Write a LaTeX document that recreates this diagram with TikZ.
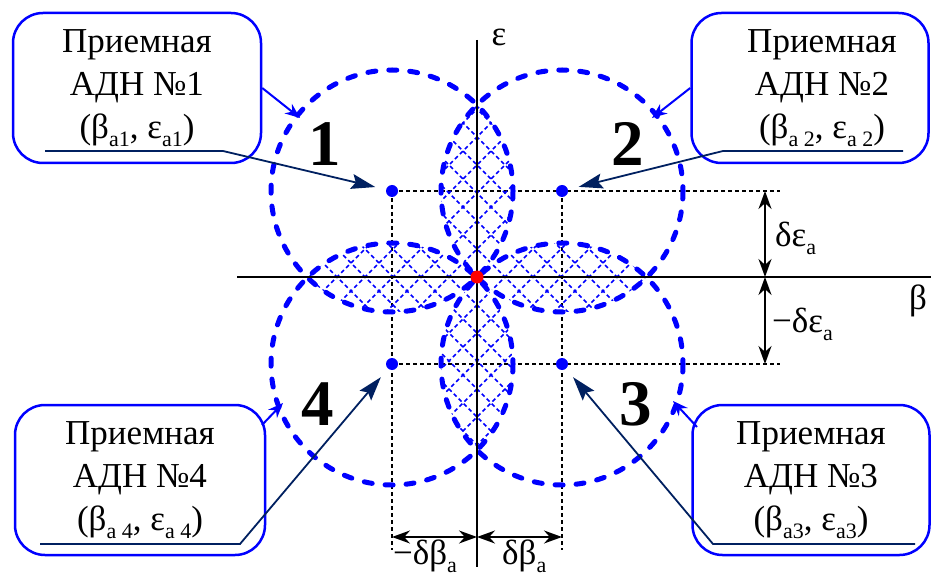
\documentclass[tikz,border=0pt]{standalone}
\usepackage{fontspec}
\setmainfont{Liberation Serif}
\usetikzlibrary{arrows.meta}
\definecolor{navy}{RGB}{0,32,96}
\newcommand{\idx}[1]{\raisebox{-8pt}{\fontsize{22}{22}\selectfont #1}}

\begin{document}
\begin{tikzpicture}[x=1pt, y=-1pt,
        callout/.style={draw=blue, line width=2.5pt, rounded corners=30pt, align=center, minimum height=150pt, inner sep=0pt, font=\fontsize{35}{43}\selectfont},
        zone/.style={blue, line width=5pt, dash pattern=on 8pt off 13pt, line cap=round},
        hatch/.style={blue, line width=1.6pt, dash pattern=on 4pt off 3pt},
        guide/.style={line width=1.5pt, dash pattern=on 4pt off 3pt},
        axis/.style={line width=1.8pt},
        antenna/.style={circle, fill=blue, inner sep=0pt, minimum size=12pt},
        center/.style={circle, fill=red, inner sep=0pt, minimum size=13pt},
        leader/.style={navy, line width=1.8pt, shorten >=11pt, -{Stealth[length=24pt, width=15pt, inset=4pt]}},
        pointer/.style={blue, line width=2pt, -{Stealth[length=15pt, width=12pt]}},
        dim/.style={line width=1.8pt, {Stealth[length=18pt, width=13pt]}-{Stealth[length=18pt, width=13pt]}},
        num/.style={font=\fontsize{65}{65}\selectfont\bfseries},
        lbl/.style={font=\fontsize{35}{40}\selectfont}]
    \useasboundingbox (0,0) rectangle (931,577);
    % antenna positions
    \coordinate (a1) at (392,191);
    \coordinate (a2) at (562,191);
    \coordinate (a3) at (562,364);
    \coordinate (a4) at (392,364);
    % guide lines
    \coordinate (g1) at (780,191);
    \coordinate (g4) at (780,364);
    \coordinate (v1) at (392,550);
    \coordinate (v2) at (562,550);
    \draw[guide] (a1) -- (g1);
    \draw[guide] (a4) -- (g4);
    \draw[guide] (a1) -- (v1);
    \draw[guide] (a2) -- (v2);
    % hatched overlaps
    \foreach \p/\q in {a1/a2, a2/a3, a3/a4, a4/a1} {
        \begin{scope}
            \clip (\p) circle (121);
            \clip (\q) circle (121);
            \foreach \k in {-9,...,9} {
                \draw[hatch] (\k*28+277,77) -- ++(400,400);
                \draw[hatch] (\k*28+677,77) -- ++(-400,400);
            }
        \end{scope}
    }
    \foreach \p in {a1,a2,a3,a4}
        \draw[zone] (\p) circle (121);
    % axes
    \coordinate (xl) at (237,277);
    \coordinate (xr) at (931,277);
    \coordinate (yt) at (477,40);
    \coordinate (yb) at (477,567);
    \draw[axis] (xl) -- (xr);
    \draw[axis] (yt) -- (yb);
    \node[lbl] (eps) at (499,37) {ε};
    \node[lbl] (beta) at (918,301) {β};
    \node[center] (o) at (477,277) {};
    \node[antenna] (p1) at (a1) {};
    \node[antenna] (p2) at (a2) {};
    \node[antenna] (p3) at (a3) {};
    \node[antenna] (p4) at (a4) {};
    % offsets
    \coordinate (e1) at (765,191);
    \coordinate (e0) at (765,277);
    \coordinate (e2) at (765,364);
    \coordinate (b1) at (392,537);
    \coordinate (b0) at (477,537);
    \coordinate (b2) at (562,537);
    \draw[dim] (e1) -- (e0);
    \draw[dim] (e0) -- (e2);
    \draw[dim] (b1) -- (b0);
    \draw[dim] (b0) -- (b2);
    \node[lbl, anchor=base west, inner sep=0pt] (de) at (775,247) {δε\idx{a}};
    \node[lbl, anchor=base west, inner sep=0pt] (mde) at (772,332) {−δε\idx{a}};
    \node[lbl, anchor=base west, inner sep=0pt] (mdb) at (393,564) {−δβ\idx{a}};
    \node[lbl, anchor=base west, inner sep=0pt] (db) at (502,564) {δβ\idx{a}};
    % zone numbers
    \node[num] (n1) at (325,144) {1};
    \node[num] (n2) at (628,144) {2};
    \node[num] (n3) at (636,404) {3};
    \node[num] (n4) at (318,404) {4};
    % callouts
    \node[callout, minimum width=248pt] (box1) at (137,88) {Приемная\\АДН №1\\(β\idx{a1}, ε\idx{a1})};
    \node[callout, minimum width=237pt] (box2) at (810,88) {\hspace*{24pt}Приемная\\\hspace*{24pt}АДН №2\\\hspace*{24pt}(β\idx{a 2}, ε\idx{a 2})};
    \node[callout, minimum width=237pt] (box3) at (811,480) {Приемная\\АДН №3\\(β\idx{a3}, ε\idx{a3})};
    \node[callout, minimum width=250pt] (box4) at (140,480) {Приемная\\АДН №4\\(β\idx{a 4}, ε\idx{a 4})};
    \coordinate (u1) at (45,151);
    \coordinate (k1) at (223,151);
    \coordinate (u2) at (903,151);
    \coordinate (k2) at (723,151);
    \coordinate (u3) at (915,544);
    \coordinate (k3) at (713,544);
    \coordinate (u4) at (40,544);
    \coordinate (k4) at (240,544);
    \draw[leader] (u1) -- (k1) -- (p1);
    \draw[leader] (u2) -- (k2) -- (p2);
    \draw[leader] (u3) -- (k3) -- (p3);
    \draw[leader] (u4) -- (k4) -- (p4);
    \coordinate (c1) at (300,118);
    \coordinate (c2) at (652,118);
    \coordinate (c3) at (673,401);
    \coordinate (c4) at (283,403);
    \coordinate (s3) at (697,427);
    \coordinate (s4) at (262,425);
    \draw[pointer] (box1.east) -- (c1);
    \draw[pointer] (box2.west) -- (c2);
    \draw[pointer] (s3) -- (c3);
    \draw[pointer] (s4) -- (c4);
\end{tikzpicture}
\end{document}
